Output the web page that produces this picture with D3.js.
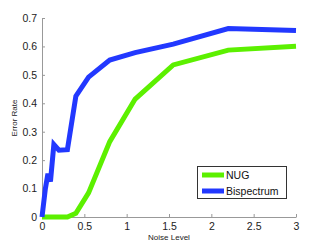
<!DOCTYPE html>
<html><head><meta charset="utf-8">
<script src="https://cdn.jsdelivr.net/npm/d3@7"></script>
<style>body{margin:0;background:#fff}svg{display:block}text{font-family:"Liberation Sans",Arial,sans-serif}</style>
</head><body><svg id="c" width="327" height="245"></svg>
<script>
const nugX = [0, 0.3, 0.4, 0.55, 0.8, 1.1, 1.55, 2.2, 3.0];
const nugY = [0, 0.0, 0.013, 0.085, 0.265, 0.415, 0.535, 0.587, 0.601];
const bisX = [0, 0.04, 0.07, 0.1, 0.14, 0.2, 0.3, 0.4, 0.55, 0.8, 1.1, 1.55, 2.2, 3.0];
const bisY = [0, 0.1, 0.152, 0.125, 0.255, 0.235, 0.237, 0.425, 0.492, 0.552, 0.578, 0.608, 0.663, 0.656];
const xTicks = [0, 0.5, 1, 1.5, 2, 2.5, 3];
const yTicks = [0, 0.1, 0.2, 0.3, 0.4, 0.5, 0.6, 0.7];
const seriesNames = ["NUG", "Bispectrum"];
const colors = ["#5cf000", "#2238ff"];

const svg = d3.select("#c");
const x = d3.scaleLinear().domain([0, 3]).range([42, 296]);
const y = d3.scaleLinear().domain([0, 0.7]).range([217, 18]);
const fmt = d => d === 0 ? "0" : String(d);

const gx = svg.append("g").attr("transform", "translate(0,217)")
  .call(d3.axisBottom(x).tickValues(xTicks).tickFormat(fmt).tickSizeInner(-3).tickSizeOuter(0).tickPadding(6));
const gy = svg.append("g").attr("transform", "translate(42,0)")
  .call(d3.axisLeft(y).tickValues(yTicks).tickFormat(fmt).tickSizeInner(-3).tickSizeOuter(0).tickPadding(5));
[gx, gy].forEach(g => {
  g.select(".domain").attr("stroke", "#999").attr("stroke-width", 1);
  g.selectAll(".tick line").attr("stroke", "#999");
  g.selectAll(".tick text").attr("fill", "#222").style("font-size", "10.5px").style("font-family", "'Liberation Sans',Arial,sans-serif");
});

const line = d3.line().x(d => x(d[0])).y(d => y(d[1]));
const series = [d3.zip(nugX, nugY), d3.zip(bisX, bisY)];
series.forEach((s, i) => {
  svg.append("path").datum(s).attr("d", line).attr("fill", "none")
    .attr("stroke", colors[i]).attr("stroke-width", 5).attr("stroke-linejoin", "miter").attr("stroke-linecap", "butt");
});

svg.append("text").attr("x", 169).attr("y", 240).attr("text-anchor", "middle")
  .style("font-size", "8px").attr("fill", "#222").text("Noise Level");
svg.append("text").attr("transform", "translate(17,118) rotate(-90)").attr("text-anchor", "middle")
  .style("font-size", "8px").attr("fill", "#222").text("Error Rate");

const lg = svg.append("g");
lg.append("rect").attr("x", 197.5).attr("y", 166.5).attr("width", 89).attr("height", 32)
  .attr("fill", "#fff").attr("stroke", "#333").attr("stroke-width", 1);
seriesNames.forEach((n, i) => {
  const yy = 175 + i * 16;
  lg.append("line").attr("x1", 202).attr("x2", 224).attr("y1", yy).attr("y2", yy)
    .attr("stroke", colors[i]).attr("stroke-width", 5);
  lg.append("text").attr("x", 226).attr("y", yy + 4).style("font-size", "10.5px").attr("fill", "#111").text(n);
});
</script></body></html>
